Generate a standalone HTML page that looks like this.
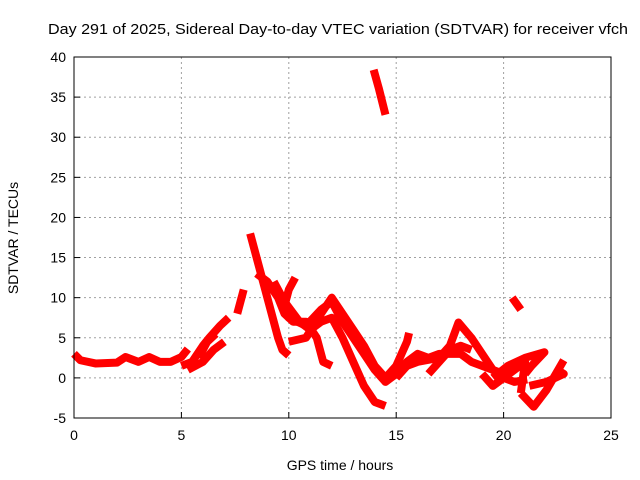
<!DOCTYPE html>
<html><head><meta charset="utf-8"><style>
body{margin:0;background:#fff}
svg{display:block;font-family:"Liberation Sans",sans-serif}
</style></head><body>
<svg id="chart" width="640" height="480">
<rect width="640" height="480" fill="#fff"/>
<text x="338" y="34" font-size="15" text-anchor="middle" textLength="580" lengthAdjust="spacingAndGlyphs">Day 291 of 2025, Sidereal Day-to-day VTEC variation (SDTVAR) for receiver vfch</text>
<text x="340" y="470" font-size="14" text-anchor="middle">GPS time / hours</text>
<text x="18" y="238" font-size="14" text-anchor="middle" transform="rotate(-90 18 238)">SDTVAR / TECUs</text>
<g id="grid"></g><g id="ticks"></g><g id="series"></g>
<rect x="74" y="57" width="537" height="361" fill="none" stroke="#000"/>
</svg>
<script>
const xTicks=[0,5,10,15,20,25];
const yTicks=[-5,0,5,10,15,20,25,30,35,40];
const track1=[[0,3],[0.3,2.2],[1,1.8],[2,1.9],[2.4,2.6],[3,2],[3.5,2.6],[4,2],[4.5,2],[5,2.6],[5.3,3.6]];
const track2=[[5,1.5],[5.5,2],[6,4],[6.3,5],[6.8,6.5],[7.2,7.5]];
const track3=[[5.3,1],[6,2],[6.5,3.5],[7,4.5]];
const track4=[[5.8,2.5],[6.2,4.5],[6.6,5.5]];
const track5=[[7.6,8],[7.9,11]];
const track6=[[8.2,18],[8.6,14],[8.9,11],[9.2,8],[9.5,5],[9.7,3.5],[10,2.8]];
const track7=[[8.5,13],[9,12],[9.5,10],[9.8,8],[10.2,7],[10.8,7],[11.3,5],[11.6,2],[12,1.5]];
const track8=[[9.3,12],[9.8,9.5],[10.5,7],[11,6],[11.5,7],[12,7.5],[12.5,5],[13,2],[13.5,-1],[14,-3],[14.5,-3.5]];
const track9=[[10.3,12.5],[10,11],[9.8,9],[10,7.5],[10.8,6.5],[11.5,8.5],[12,9.5],[12.5,7],[13,5],[13.5,3],[14,1],[14.5,-0.5],[15,0.5],[15.5,2],[16,3],[16.5,2.5],[17,3],[18,3],[18.5,2],[19,1.5],[19.5,1],[20,0.5]];
const track10=[[10,4.5],[10.8,5],[11.5,8],[12,10],[12.5,8],[13,6],[13.5,4],[14,1.5],[14.5,0],[15,1.5],[15.5,4.5],[15.6,5.6]];
const track11=[[15,0],[15.5,1.5],[16,2],[17,2.5],[17.5,4],[17.9,6.9],[18.5,5],[19,3],[19.5,1],[20,0],[20.5,-0.5],[21.1,-0.2]];
const track12=[[16.5,0.5],[17,2],[17.5,3.5],[18,4],[18.5,3.5]];
const track13=[[19,0.5],[19.5,-1],[20,0],[20.5,1],[21,2],[20.8,-1.9]];
const track14=[[20.8,-1.9],[21.4,-3.6],[22,-1.5],[22.8,2.2]];
const track15=[[19.5,0],[20.2,1.5],[21,2.5],[21.9,3.2],[21.3,1.5],[21,0.5]];
const track16=[[21.2,-1],[22,-0.5],[22.8,0.5],[22.5,1]];
const track17=[[20.4,10],[20.8,8.5]];
const track18=[[13.95,38.4],[14.2,36],[14.5,32.8]];
const tracks=[track1,track2,track3,track4,track5,track6,track7,track8,track9,track10,track11,track12,track13,track14,track15,track16,track17,track18];
const X0=74,X1=611,Y0=418,Y1=57;
const sx=t=>X0+(t-0)/(25-0)*(X1-X0);
const sy=v=>Y0-(v+5)/(45)*(Y0-Y1);
const NS="http://www.w3.org/2000/svg";
const grid=document.getElementById('grid'),ticks=document.getElementById('ticks'),ser=document.getElementById('series');
function mk(tag,attrs,parent){const e=document.createElementNS(NS,tag);for(const k in attrs)e.setAttribute(k,attrs[k]);parent.appendChild(e);return e;}
xTicks.forEach(t=>{
  const x=sx(t);
  if(t>0&&t<25){const g=mk('line',{x1:x,x2:x,y1:Y1,y2:Y0,stroke:'#a0a0a0','stroke-dasharray':'2,3'},grid);
  
  }
  const tk=mk('line',{x1:x,x2:x,y1:Y0,y2:Y0-6,stroke:'#000'},ticks);
  
  
  const l=mk('text',{x:x,y:Y0+22,'font-size':'14','text-anchor':'middle'},ticks);l.textContent=t;
  
  
});
yTicks.forEach(v=>{
  const y=sy(v);
  if(v>-5&&v<40){const g=mk('line',{x1:X0,x2:X1,y1:y,y2:y,stroke:'#a0a0a0','stroke-dasharray':'2,3'},grid);
  
  }
  const tk=mk('line',{x1:X0,x2:X0+6,y1:y,y2:y,stroke:'#000'},ticks);
  
  
  const l=mk('text',{x:X0-8,y:y+5,'font-size':'14','text-anchor':'end'},ticks);l.textContent=v;
  
  
});
tracks.forEach((tr,i)=>{
  const p=mk('polyline',{points:tr.map(d=>sx(d[0])+','+sy(d[1])).join(' '),fill:'none',stroke:'#ff0000','stroke-width':'8','stroke-linejoin':'round'},ser);
  
  
});
</script>
</body></html>
